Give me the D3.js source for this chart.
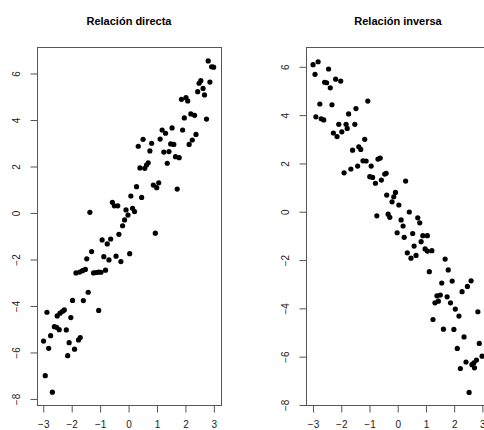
<!DOCTYPE html>
<html>
<head>
<meta charset="utf-8">
<script src="https://cdn.jsdelivr.net/npm/d3@7"></script>
<style>
html,body{margin:0;padding:0;background:#fff;}
svg{display:block;font-family:"Liberation Sans",Arial,Helvetica,sans-serif;}
</style>
</head>
<body>
<svg id="chart" width="484" height="430"></svg>
<script>
// ---- Data ----
const titles = ["Relación directa", "Relación inversa"];
const xTicks = [-3, -2, -1, 0, 1, 2, 3];
const yTicks = [-8, -6, -4, -2, 0, 2, 4, 6];

const directX = [2.80,2.92,2.99,2.54,2.48,2.62,2.86,2.43,2.67,1.86,2.02,2.08,2.74,2.19,2.32,1.96,1.90,2.37,2.24,2.13,
  1.18,1.30,1.53,1.11,1.48,1.59,0.51,0.81,0.34,0.75,1.24,1.42,1.65,1.78,1.36,0.40,0.57,0.63,0.69,0.87,
  0.99,1.06,1.71,0.28,0.08,0.46,0.14,0.21,-0.09,-0.02,-0.14,-0.21,-0.34,0.94,-1.36,-0.57,-0.50,-0.38,
  -0.93,-0.75,-0.63,-1.30,-1.47,-0.87,-0.69,-0.44,-0.27,0.04,
  -1.85,-1.72,-1.62,-1.52,-1.23,-1.14,-1.05,-0.97,-0.81,
  -1.42,-1.97,-1.59,-1.05,-2.87,-2.51,-2.41,-2.32,-2.26,-2.03,
  -2.61,-2.53,-2.44,-2.19,-2.74,-2.99,-1.76,-1.70,-2.09,-2.81,-1.90,-2.14,-2.93,-2.68];
const directY = [6.54,6.29,6.27,5.69,5.58,5.36,5.63,5.22,5.08,4.89,4.96,4.82,4.04,4.26,4.20,4.09,3.57,3.38,3.14,2.95,
  3.57,3.43,3.66,3.18,2.97,2.95,3.17,3.00,2.87,2.67,2.62,2.64,2.42,2.38,2.14,1.94,1.92,2.06,2.16,1.20,
  1.09,1.30,1.03,1.13,0.73,0.67,0.20,0.06,0.13,-0.09,-0.30,-0.55,-0.92,-0.87,0.03,0.46,0.31,0.31,
  -1.16,-1.33,-1.12,-1.66,-1.97,-1.88,-2.02,-1.86,-2.09,-1.75,
  -2.58,-2.54,-2.48,-2.43,-2.58,-2.56,-2.54,-2.55,-2.46,
  -3.41,-3.76,-3.77,-4.19,-4.27,-4.43,-4.31,-4.23,-4.17,-4.50,
  -4.89,-4.92,-5.02,-5.03,-5.28,-5.51,-5.46,-5.36,-5.58,-5.82,-5.86,-6.14,-7.00,-7.71];

const inverseX = [-3.00,-2.82,-2.93,-2.45,-2.59,-2.52,-2.39,-2.20,-2.02,-2.76,-2.33,-1.06,-2.90,-2.71,-2.62,-1.74,-1.48,
  -2.28,-2.15,-2.09,-1.98,-1.83,-1.79,-1.52,-1.60,-1.38,-1.31,-1.17,-1.90,-1.66,-1.42,-1.23,-1.12,-0.94,
  -0.70,-0.62,-0.99,-0.89,-0.79,-0.58,-0.46,-0.41,-0.39,-0.20,-0.14,-0.08,0.28,0.04,-0.74,-0.34,-0.28,
  0.12,0.19,0.41,0.71,0.78,-0.02,0.23,0.53,0.89,1.05,
  0.83,0.58,0.97,1.05,1.21,0.34,0.47,0.65,1.68,1.12,1.79,
  1.56,1.93,2.60,2.47,2.28,1.39,1.51,1.75,1.32,1.44,1.87,2.04,2.84,2.17,1.25,1.62,1.99,2.35,2.89,2.11,
  2.99,2.79,2.70,2.63,2.42,2.72,2.22,2.53];
const inverseY = [6.09,6.21,5.69,5.91,5.36,5.34,5.13,5.49,5.41,4.46,4.43,4.58,3.93,3.85,3.80,4.05,4.27,
  3.26,3.11,3.62,3.31,3.62,3.45,3.62,2.55,2.69,2.58,3.00,1.61,1.77,1.89,2.11,2.10,1.89,
  2.18,2.22,1.45,1.42,1.18,1.31,1.56,1.59,0.69,0.41,0.62,0.80,1.27,0.28,-0.17,-0.10,-0.23,
  -0.34,-0.59,-0.01,-0.25,-0.46,-0.87,-1.06,-0.90,-0.99,-0.99,
  -1.24,-1.42,-1.54,-1.63,-1.61,-1.70,-1.92,-1.81,-1.96,-2.48,-2.41,
  -2.95,-2.87,-2.86,-3.09,-3.31,-3.48,-3.45,-3.52,-3.77,-3.70,-3.77,-4.03,-4.14,-4.32,-4.46,-4.86,-4.87,-5.18,-5.45,-5.66,
  -5.98,-6.14,-6.25,-6.33,-6.22,-6.46,-6.49,-7.48];

// ---- Layout ----
const panels = [
  {title: titles[0], xs: directX, ys: directY, left: 37, right: 221, xDom: [-3.22, 3.25], yDom: [-8.26, 7.14]},
  {title: titles[1], xs: inverseX, ys: inverseY, left: 306, right: 490, xDom: [-3.25, 3.27], yDom: [-8.0, 6.82]}
];
const plotTop = 47, plotBottom = 405;
const svg = d3.select("#chart");
const fmt = v => (v < 0 ? "\u2212" + Math.abs(v) : String(v));

panels.forEach(p => {
  const x = d3.scaleLinear().domain(p.xDom).range([p.left, p.right]);
  const y = d3.scaleLinear().domain(p.yDom).range([plotBottom, plotTop]);
  const g = svg.append("g");

  // points
  g.append("g").selectAll("circle")
    .data(d3.range(p.xs.length))
    .join("circle")
    .attr("cx", i => x(p.xs[i]))
    .attr("cy", i => y(p.ys[i]))
    .attr("r", 2.6)
    .attr("fill", "#000");

  // box
  g.append("rect")
    .attr("x", p.left + 0.5).attr("y", plotTop + 0.5)
    .attr("width", p.right - p.left).attr("height", plotBottom - plotTop)
    .attr("fill", "none").attr("stroke", "#555").attr("stroke-width", 1);

  // x axis
  const xa = g.append("g").attr("transform", `translate(0,${plotBottom + 0.5})`)
    .call(d3.axisBottom(x).tickValues(xTicks).tickSize(7).tickFormat(fmt));
  xa.select(".domain").remove();
  xa.append("line").attr("x1", x(xTicks[0])).attr("x2", x(xTicks[xTicks.length - 1]))
    .attr("stroke", "#555");
  xa.selectAll(".tick line").attr("stroke", "#555");
  xa.selectAll(".tick text").attr("y", 22.5).attr("dy", null)
    .attr("font-size", 10).attr("fill", "#222")
    .attr("font-family", "Liberation Sans, Arial, sans-serif");

  // y axis
  const ya = g.append("g").attr("transform", `translate(${p.left + 0.5},0)`)
    .call(d3.axisLeft(y).tickValues(yTicks).tickSize(7).tickFormat(fmt));
  ya.select(".domain").remove();
  ya.append("line").attr("y1", y(yTicks[0])).attr("y2", y(yTicks[yTicks.length - 1]))
    .attr("stroke", "#555");
  ya.selectAll(".tick line").attr("stroke", "#555");
  ya.selectAll(".tick text").attr("x", null).attr("dy", null)
    .attr("transform", "translate(-18,0) rotate(-90)")
    .attr("text-anchor", "middle")
    .attr("font-size", 10).attr("fill", "#222")
    .attr("font-family", "Liberation Sans, Arial, sans-serif");

  // title
  g.append("text")
    .attr("x", (p.left + p.right) / 2).attr("y", 25)
    .attr("text-anchor", "middle")
    .attr("font-weight", "bold").attr("font-size", 11)
    .attr("fill", "#000")
    .text(p.title);
});
</script>
</body>
</html>
